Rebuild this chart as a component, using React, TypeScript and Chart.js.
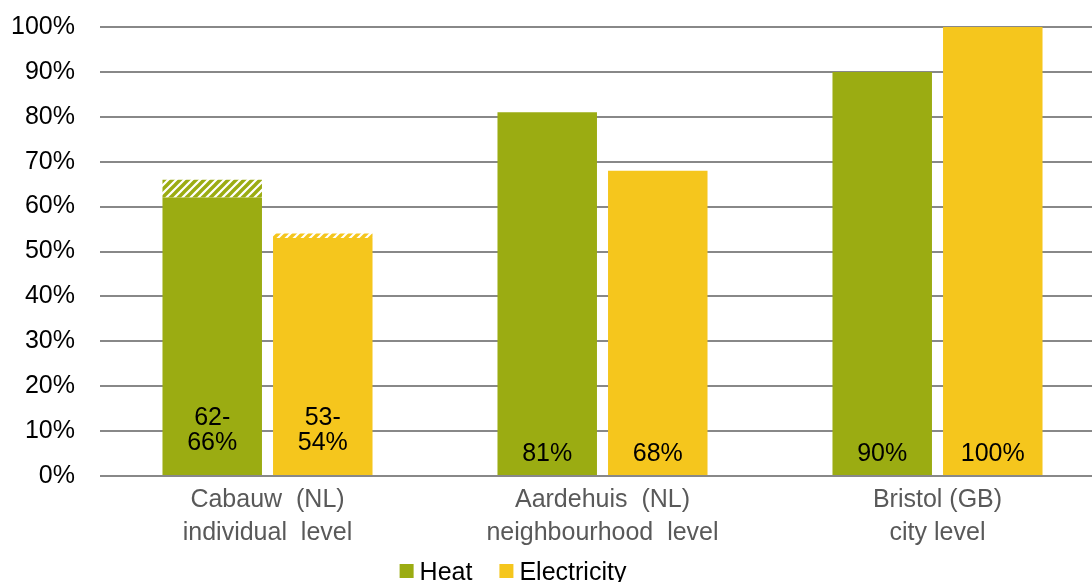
import React, { useEffect, useRef } from "react";
import { Chart, registerables } from "chart.js";

Chart.register(...registerables);

const categories: string[][] = [
  ["Cabauw  (NL)", "individual  level"],
  ["Aardehuis  (NL)", "neighbourhood  level"],
  ["Bristol (GB)", "city level"],
];
const heatLow = [62, 81, 90];
const heatRange = [4, 0, 0];
const elecLow = [53, 68, 100];
const elecRange = [1, 0, 0];
const heatLabels: string[][] = [["62-", "66%"], ["81%"], ["90%"]];
const elecLabels: string[][] = [["53-", "54%"], ["68%"], ["100%"]];
const legendNames = ["Heat", "Electricity"];
const yTicks = [0, 10, 20, 30, 40, 50, 60, 70, 80, 90, 100];

const GREEN = "#9BAC12";
const YELLOW = "#F5C61D";
const GRID = "#888888";
const FONT = "'Liberation Sans', Arial, sans-serif";

function makePattern(color: string): CanvasPattern | string {
  const c = document.createElement("canvas");
  c.width = 8;
  c.height = 8;
  const g = c.getContext("2d");
  if (!g) return color;
  g.fillStyle = "#ffffff";
  g.fillRect(0, 0, 8, 8);
  g.strokeStyle = color;
  g.lineWidth = 3.4;
  g.beginPath();
  g.moveTo(-2, 10);
  g.lineTo(10, -2);
  g.moveTo(-6, 6);
  g.lineTo(6, -6);
  g.moveTo(2, 14);
  g.lineTo(14, 2);
  g.stroke();
  const p = g.createPattern(c, "repeat");
  return p || color;
}

const labelPlugin = {
  id: "barLabels",
  afterDatasetsDraw(chart: any) {
    const ctx = chart.ctx;
    const yScale = chart.scales.y;
    const bottom = yScale.getPixelForValue(0);
    const sets: [number, string[][]][] = [
      [0, heatLabels],
      [2, elecLabels],
    ];
    ctx.save();
    ctx.font = `25px ${FONT}`;
    ctx.fillStyle = "#000000";
    ctx.textAlign = "center";
    ctx.textBaseline = "middle";
    for (const [dsIndex, labels] of sets) {
      const meta = chart.getDatasetMeta(dsIndex);
      meta.data.forEach((el: any, i: number) => {
        const lines = labels[i];
        const n = lines.length;
        const last = bottom - 22 - (n - 1) * 11;
        lines.forEach((t, j) => {
          ctx.fillText(t, el.x, last - (n - 1 - j) * 25);
        });
      });
    }
    ctx.restore();
  },
};

const legendPlugin = {
  id: "customLegend",
  afterDraw(chart: any) {
    const ctx = chart.ctx;
    ctx.save();
    ctx.font = `25px ${FONT}`;
    ctx.textBaseline = "middle";
    ctx.textAlign = "left";
    const colors = [GREEN, YELLOW];
    const box = 14;
    const gapText = 6;
    const gapItem = 27;
    const widths = legendNames.map((n) => ctx.measureText(n).width);
    let total = 0;
    widths.forEach((w, i) => {
      total += box + gapText + w + (i < widths.length - 1 ? gapItem : 0);
    });
    let x = 513 - total / 2;
    const cy = 572;
    legendNames.forEach((name, i) => {
      ctx.fillStyle = colors[i];
      ctx.fillRect(x, cy - 8, box, box);
      x += box + gapText;
      ctx.fillStyle = "#000000";
      ctx.fillText(name, x, cy + 1);
      x += widths[i] + gapItem;
    });
    ctx.restore();
  },
};

export default function App() {
  const ref = useRef<HTMLCanvasElement | null>(null);
  useEffect(() => {
    if (!ref.current) return;
    const common = { categoryPercentage: 0.66, barPercentage: 0.9 };
    const chart = new Chart(ref.current, {
      type: "bar",
      data: {
        labels: categories,
        datasets: [
          { label: legendNames[0], data: heatLow, backgroundColor: GREEN, stack: "heat", ...common },
          {
            label: legendNames[0] + " range",
            data: heatRange,
            backgroundColor: makePattern(GREEN) as any,
            stack: "heat",
            ...common,
          },
          { label: legendNames[1], data: elecLow, backgroundColor: YELLOW, stack: "elec", ...common },
          {
            label: legendNames[1] + " range",
            data: elecRange,
            backgroundColor: makePattern(YELLOW) as any,
            stack: "elec",
            ...common,
          },
        ],
      },
      options: {
        animation: false,
        responsive: false,
        layout: { padding: { top: 0, right: 5, left: 0, bottom: 0 } },
        plugins: {
          legend: { display: false },
          tooltip: { enabled: false },
        },
        scales: {
          x: {
            stacked: true,
            grid: { display: false, drawTicks: false },
            border: { display: false },
            ticks: {
              color: "#595959",
              font: { family: FONT, size: 25, lineHeight: 1.3 },
              padding: 8,
              maxRotation: 0,
              autoSkip: false,
            },
            afterFit: (s: any) => {
              s.height = 124;
            },
          },
          y: {
            stacked: true,
            min: 0,
            max: 100,
            afterBuildTicks: (s: any) => {
              s.ticks = yTicks.map((v) => ({ value: v }));
            },
            grid: {
              color: GRID,
              lineWidth: 2,
              drawTicks: true,
              tickLength: 13,
              tickColor: "rgba(0,0,0,0)",
            },
            border: { display: false },
            ticks: {
              color: "#000000",
              font: { family: FONT, size: 25 },
              padding: 12,
              callback: (v: any) => `${v}%`,
            },
            afterFit: (s: any) => {
              s.width = 100;
            },
          },
        },
      },
      plugins: [labelPlugin, legendPlugin],
    });
    return () => chart.destroy();
  }, []);
  return (
    <div
      style={{
        position: "fixed",
        left: 0,
        top: 0,
        width: 1092,
        height: 582,
        overflow: "hidden",
        background: "#ffffff",
      }}
    >
      <canvas ref={ref} width={1110} height={600} style={{ display: "block" }} />
    </div>
  );
}
